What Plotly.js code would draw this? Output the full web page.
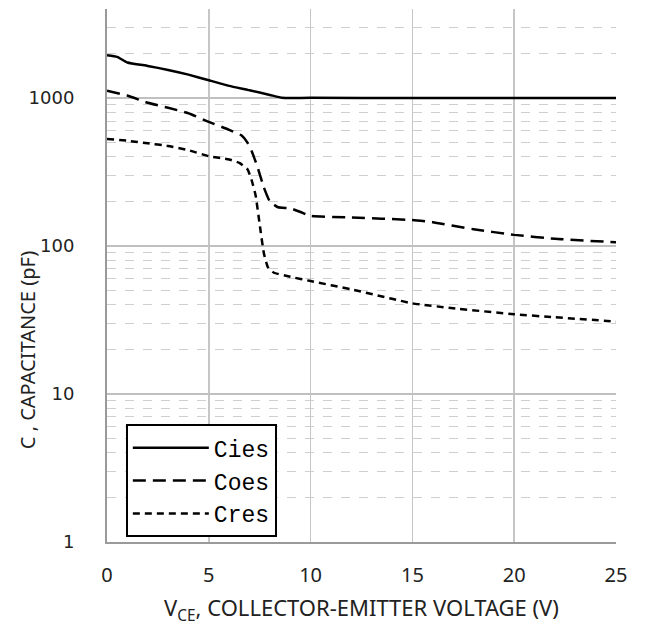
<!DOCTYPE html>
<html>
<head>
<meta charset="utf-8">
<script src="https://cdn.plot.ly/plotly-3.0.1.min.js"></script>
<style>html,body{margin:0;padding:0;background:#fff;}#chart{width:645px;height:632px;}</style>
</head>
<body>
<div id="chart"></div>
<script>
// Cies
const ciesX = [0, 0.5, 1, 2, 3, 4, 5, 6, 7, 8, 8.6, 9, 10, 15, 20, 25];
const ciesY = [1950, 1900, 1740, 1650, 1550, 1440, 1320, 1210, 1130, 1050, 1005, 1000, 1005, 1000, 1000, 1000];
// Coes
const coesX = [0, 1, 2, 3, 4, 5, 6, 6.6, 6.9, 7.1, 7.4, 7.7, 8, 8.4, 9, 9.5, 10, 12, 15, 16, 18, 20, 22, 25];
const coesY = [1120, 1040, 930, 860, 790, 690, 610, 560, 500, 440, 340, 250, 200, 183, 180, 170, 160, 156, 150, 145, 130, 119, 112, 106];
// Cres
const cresX = [0, 1, 2, 3, 4, 5, 6, 6.5, 6.9, 7.1, 7.3, 7.5, 7.7, 7.9, 8.2, 9, 10, 12, 14, 15, 17, 20, 22, 25];
const cresY = [530, 515, 495, 475, 445, 405, 385, 365, 330, 280, 220, 140, 90, 72, 66, 62, 58, 51, 44, 41, 38, 34.6, 33, 30.9];
const seriesNames = ["Cies", "Coes", "Cres"];
const xTicks = [0, 5, 10, 15, 20, 25];
const yTicks = [1, 10, 100, 1000];
const xTitle = "V<sub>CE</sub>, COLLECTOR-EMITTER VOLTAGE (V)";
const yTitle = "C , CAPACITANCE (pF)";

const traces = [
  {x: ciesX, y: ciesY, name: seriesNames[0], legendgroup: "a", mode: "lines",
   line: {color: "#000", width: 2.5, dash: "solid", shape: "spline", smoothing: 0.4}},
  {x: coesX, y: coesY, name: seriesNames[1], legendgroup: "b", mode: "lines",
   line: {color: "#000", width: 2.5, dash: "13px,7px", shape: "spline", smoothing: 0.4}},
  {x: cresX, y: cresY, name: seriesNames[2], legendgroup: "c", mode: "lines",
   line: {color: "#000", width: 2.5, dash: "7px,5px", shape: "spline", smoothing: 0.4}}
];

const layout = {
  width: 645, height: 632,
  margin: {l: 107, r: 29, t: 9, b: 90},
  paper_bgcolor: "#fff", plot_bgcolor: "#fff",
  showlegend: true,
  legend: {
    x: 0.037, y: 0.221, xanchor: "left", yanchor: "top",
    bgcolor: "#fff", bordercolor: "#000", borderwidth: 2,
    font: {family: "Liberation Mono", size: 23, color: "#000"},
    itemwidth: 76, tracegroupgap: 0, traceorder: "grouped"
  },
  xaxis: {
    range: [0, 25], tickvals: xTicks, ticktext: xTicks.map(String),
    showgrid: true, gridcolor: "#c6c6c6", gridwidth: 1.5,
    zeroline: false, showline: true, linecolor: "#9a9a9a", linewidth: 2,
    ticks: "", ticklabelstandoff: 14,
    tickfont: {family: "Noto Sans", size: 20, color: "#222"},
    title: {text: xTitle,
            font: {family: "Noto Sans", size: 22, color: "#222"}, standoff: 14}
  },
  yaxis: {
    type: "log", range: [0, Math.log10(4000)],
    tickvals: yTicks, ticktext: yTicks.map(String),
    showgrid: true, gridcolor: "#c0c0c0", gridwidth: 2,
    zeroline: false, showline: true, linecolor: "#9a9a9a", linewidth: 2,
    ticks: "", ticklabelstandoff: 27,
    tickfont: {family: "DejaVu Sans", size: 18, color: "#222"},
    minor: {dtick: "D1", showgrid: true, gridcolor: "#cfcfcf", griddash: "dash", gridwidth: 1, ticks: ""}
  },
  annotations: [
    {text: yTitle, xref: "paper", yref: "paper", x: -0.157, y: 0.36,
     xanchor: "center", yanchor: "middle", textangle: -90, showarrow: false,
     font: {family: "Noto Sans", size: 20, color: "#222"}}
  ]
};

Plotly.newPlot("chart", traces, layout, {staticPlot: true, displayModeBar: false});
</script>
</body>
</html>
